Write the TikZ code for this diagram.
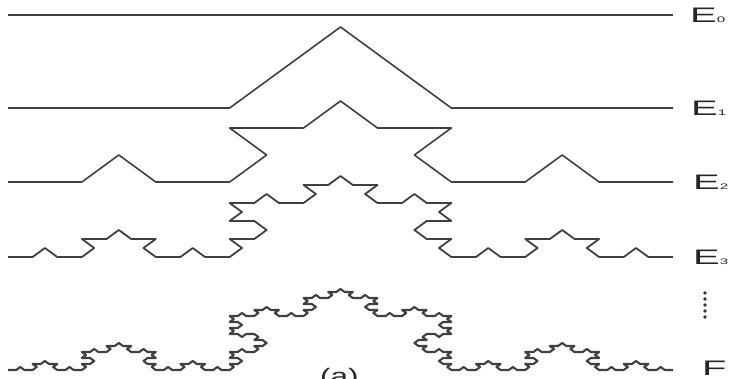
\documentclass[tikz,border=0pt]{standalone}
\usepackage{fontspec}
\setmainfont{Liberation Sans}
\usepackage{graphicx}

% one Koch curve: level, baseline
\newcommand\kochline[3][]{%
  \pgfmathtruncatemacro\kn{4^#2-1}%
  \pgfmathsetmacro\kl{665/3^#2}%
  \draw[curve, #1] (8,#3) \foreach \k [evaluate=\k as \a using {kang(\k)}] in {0,...,\kn} {
    -- ++({\kl*cos(\a)},{\kl*sin(\a)*0.422}) };
}
\newcommand\elabel[1]{\scalebox{1.9}[1]{E{\fontsize{8}{8}\selectfont #1}}}

\begin{document}
\begin{tikzpicture}[
  x=1pt, y=1pt,
  curve/.style={draw=black!75, line width=1.6pt, line join=round},
  lab/.style={anchor=base west, inner sep=0pt, text=black!85,
              font=\fontsize{21}{21}\selectfont},
  declare function={
    kturn(\d)=60*(\d==1)-60*(\d==2);
    kang(\k)=kturn(mod(\k,4))+kturn(mod(floor(\k/4),4))
      +kturn(mod(floor(\k/16),4))+kturn(mod(floor(\k/64),4))
      +kturn(mod(floor(\k/256),4));
  }
]
\useasboundingbox (0,0) rectangle (737,378);

% the curves E_0 ... E_3 and F
\kochline{0}{363}
\kochline{1}{270}
\kochline{2}{196}
\kochline[line width=1.8pt]{3}{121}
\kochline[line width=2.1pt]{4}{8}

% labels
\node[lab] (e0) at (690,355.5) {\elabel{0}};
\node[lab] (e1) at (691,262.5) {\elabel{1}};
\node[lab] (e2) at (693,188.5) {\elabel{2}};
\node[lab] (e3) at (693,113.5) {\elabel{3}};
\node[lab] (f) at (702,3) {\scalebox{1.9}[1]{F}};
\node[lab] (a) at (320,-5) {\scalebox{1.5}[1]{(a)}};

% vertical dots
\foreach \i in {0,...,4}
  \fill[black!80] (705,{85-6*\i}) circle (1.8);

\end{tikzpicture}
\end{document}
